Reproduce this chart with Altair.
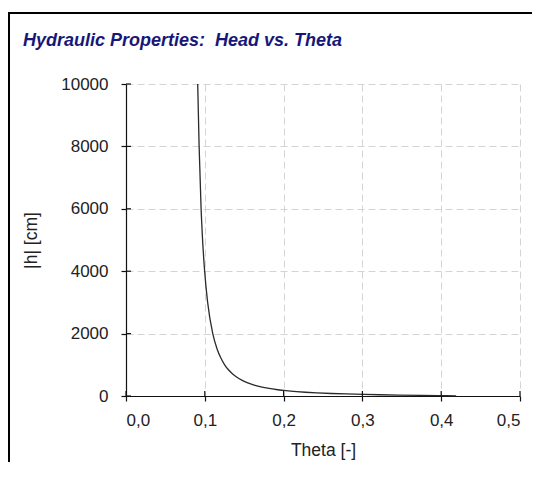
import altair as alt
import pandas as pd

# Curve: volumetric water content vs |pressure head|
theta = [0.0910, 0.0928, 0.0953, 0.0972, 0.0998, 0.1036, 0.1101, 0.1157, 0.1207,
         0.1252, 0.1297, 0.1357, 0.1408, 0.1475, 0.1545, 0.1626, 0.1700, 0.1797,
         0.1926, 0.2030, 0.2164, 0.2278, 0.2421, 0.2608, 0.2789, 0.3025, 0.3223,
         0.3464, 0.3754, 0.4074, 0.4190]
head = [10000, 8000, 6000, 5000, 4000, 3000, 2000, 1500, 1200,
        1000, 850, 700, 600, 500, 420, 350, 300, 250,
        200, 170, 140, 120, 100, 80, 65, 50, 40,
        30, 20, 10, 5]

x_ticks = [0.0, 0.1, 0.2, 0.3, 0.4, 0.5]
y_ticks = [0, 2000, 4000, 6000, 8000, 10000]

title_text = "Hydraulic Properties:\u00a0 Head vs. Theta"
x_title = "Theta [-]"
y_title = "|h| [cm]"

FONT = "Liberation Sans"
W, H = 394, 312
PAD_L, PAD_T, PAD_R, PAD_B = 118, 76, 12, 66

df = pd.DataFrame({"theta": theta, "head": head})

xscale = alt.Scale(domain=[0, 0.5], nice=False, zero=False)
yscale = alt.Scale(domain=[0, 10000], nice=False)

grid_common = dict(
    grid=True, gridColor="#d4d4d4", gridDash=[7, 4], gridWidth=1,
    domainColor="#111111", domainWidth=1.2, tickColor="#111111", tickWidth=1.2,
    tickSize=5, labelFont=FONT, labelFontSize=17, labelColor="#222222",
    titleFont=FONT, titleFontSize=17.5, titleFontWeight="normal", titleColor="#222222",
)

x_axis = alt.Axis(
    values=x_ticks, labelExpr="replace(format(datum.value, '.1f'), '.', ',')",
    title=x_title, labelPadding=11, titlePadding=13, **grid_common,
)
y_axis = alt.Axis(
    values=y_ticks, format="d", title=y_title, labelPadding=13, titlePadding=20,
    **grid_common,
)

curve = alt.Chart(df).mark_line(
    color="#2a2a2a", strokeWidth=1.3, interpolate="monotone"
).encode(
    x=alt.X("theta:Q", scale=xscale, axis=x_axis),
    y=alt.Y("head:Q", scale=yscale, axis=y_axis),
)

# inward halves of the crossing tick marks
y_in = alt.Chart(pd.DataFrame({"head": y_ticks})).mark_rule(
    color="#111111", strokeWidth=1.2
).encode(
    y=alt.Y("head:Q", scale=yscale, axis=y_axis),
    x=alt.value(0), x2=alt.value(5),
)
x_in = alt.Chart(pd.DataFrame({"theta": x_ticks})).mark_rule(
    color="#111111", strokeWidth=1.2
).encode(
    x=alt.X("theta:Q", scale=xscale, axis=x_axis),
    y=alt.value(H), y2=alt.value(H - 5),
)

# outer frame of the figure (its right and bottom edges lie beyond the picture)
one = pd.DataFrame({"k": [0]})
frame = alt.Chart(one).mark_rect(
    fillOpacity=0, stroke="black", strokeWidth=2
).encode(
    x=alt.value(-117), x2=alt.value(W + PAD_R + 60),
    y=alt.value(-71), y2=alt.value(H + PAD_B + 60),
)
title = alt.Chart(one).mark_text(
    align="left", baseline="alphabetic", font=FONT, fontSize=18,
    fontStyle="italic", fontWeight="bold", color="#17177a",
).encode(x=alt.value(-103), y=alt.value(-38), text=alt.value(title_text))

chart = alt.layer(frame, curve, y_in, x_in, title).properties(
    width=W, height=H,
    autosize=alt.AutoSizeParams(type="none"),
    padding={"left": PAD_L, "top": PAD_T, "right": PAD_R, "bottom": PAD_B},
    background="white",
).configure_view(stroke=None)

chart.save("out.html", embed_options={"renderer": "svg", "actions": False})
